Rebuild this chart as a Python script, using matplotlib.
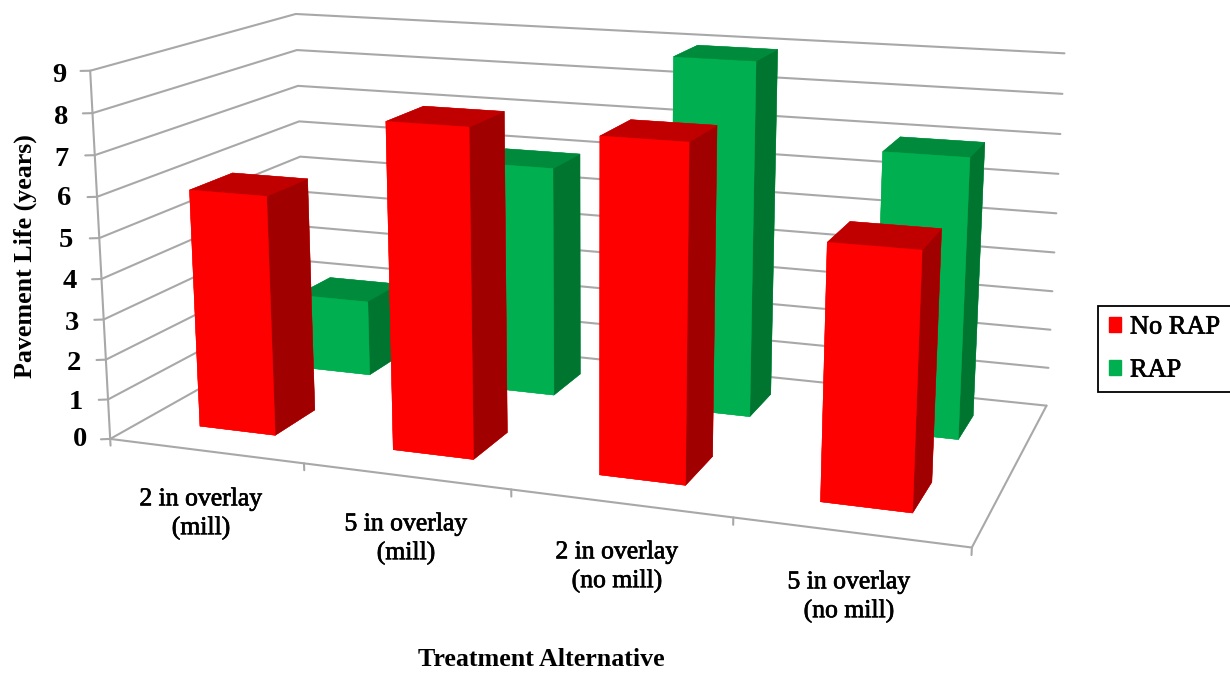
import matplotlib
matplotlib.use('Agg')
import matplotlib.pyplot as plt
import matplotlib.patheffects as pe
from matplotlib.patches import Patch

# Chart data
categories = ['2 in overlay\n(mill)', '5 in overlay\n(mill)',
              '2 in overlay\n(no mill)', '5 in overlay\n(no mill)']
no_rap = [5.95, 7.95, 7.95, 5.95]
rap = [2.0, 5.95, 8.95, 6.95]
value_ticks = list(range(10))

# Face colours: bottom, top, front, back, left, right
RED_FACES = ['#FF0000', '#C00000', '#FF0000', '#FF0000', '#FF0000', '#A00000']
GREEN_FACES = ['#00B050', '#008A3C', '#00B050', '#00B050', '#00B050', '#007530']
GRID = '#A8A8A8'

W, H = 1230, 674
plt.rcParams['font.family'] = ['Liberation Serif', 'DejaVu Serif']

fig = plt.figure(figsize=(W / 100, H / 100), dpi=100, facecolor='white')

# Square 3D axes placed so the box sits on the canvas; it overhangs the figure edges.
side = 999.28
ax = fig.add_axes([75.88 / W, -84.58 / H, side / W, side / H], projection='3d')
ax.set_xlim(0, 4)
ax.set_ylim(0, 1)
ax.set_zlim(0, 9)
ax.view_init(elev=13.716, azim=-70.062, roll=0.022)
ax.set_proj_type('persp', focal_length=0.4099)
ax.set_box_aspect((1, 0.4945, 0.4304), zoom=1)
ax.set_axis_off()
ax.patch.set_alpha(0)
ax.computed_zorder = False


def line3d(xs, ys, zs):
    ax.plot(xs, ys, zs, color=GRID, lw=1.5, zorder=1, solid_capstyle='round', clip_on=False)


# Walls, floor and axis lines
for z in value_ticks:
    line3d([0, 0, 4], [0, 1, 1], [z, z, z])
    line3d([0, -0.0374], [0, -0.0097], [z, z])
line3d([0, 0], [0, 0], [0, 9])
line3d([0, 4, 4], [0, 0, 1], [0, 0, 0])
for k in range(5):
    line3d([k, k], [0, 0], [0, -0.17])

# Columns: back row first, each row drawn left to right
BAR_X = 0.297
BAR_W = 0.397
rows = [(rap, 0.67, 0.19, GREEN_FACES), (no_rap, 0.155, 0.205, RED_FACES)]
order = 2
for values, y0, depth, faces in rows:
    for i, v in enumerate(values):
        ax.bar3d(i + BAR_X, y0, 0, BAR_W, depth, v, color=faces, edgecolor=faces,
                 linewidth=0.3, shade=False, zorder=order)
        order += 1


def px_text(x, y, s, **kw):
    return fig.text(x / W, 1 - y / H, s, ha='center', va='center', **kw)


# Slightly heavier strokes for the regular-weight labels
heavy = [pe.withStroke(linewidth=0.5, foreground='black')]

# Value axis numbers
tick_x = [80, 76, 74, 72, 70, 66, 64, 62, 61, 59]
tick_y = [440, 402, 363, 323, 281, 240, 199, 159, 117, 76]
for v, x, y in zip(value_ticks, tick_x, tick_y):
    px_text(x, y, str(v), fontsize=20.5, fontweight='bold')

# Category labels
label_x = [201, 406, 617, 849]
label_y = [514, 539, 567, 597]
for s, x, y in zip(categories, label_x, label_y):
    t = px_text(x, y, s, fontsize=18.5, linespacing=1.35)
    t.set_path_effects(heavy)

px_text(541, 660, 'Treatment Alternative', fontsize=18.7, fontweight='bold')
px_text(25, 256, 'Pavement Life (years)', fontsize=18.7, fontweight='bold', rotation=90)

handles = [Patch(color='#FF0000'), Patch(color='#00B050')]
leg = fig.legend(handles, ['No RAP', 'RAP'], loc='upper left',
                 bbox_to_anchor=(1098 / W, 1 - 306 / H), borderaxespad=0,
                 fontsize=19, frameon=True, fancybox=False, edgecolor='black',
                 framealpha=1, handlelength=0.48, handleheight=0.48, handletextpad=0.33,
                 borderpad=0.4, labelspacing=0.8)
leg.get_frame().set_linewidth(1.3)
for t in leg.get_texts():
    t.set_path_effects(heavy)

fig.savefig('out.png', dpi=100)
